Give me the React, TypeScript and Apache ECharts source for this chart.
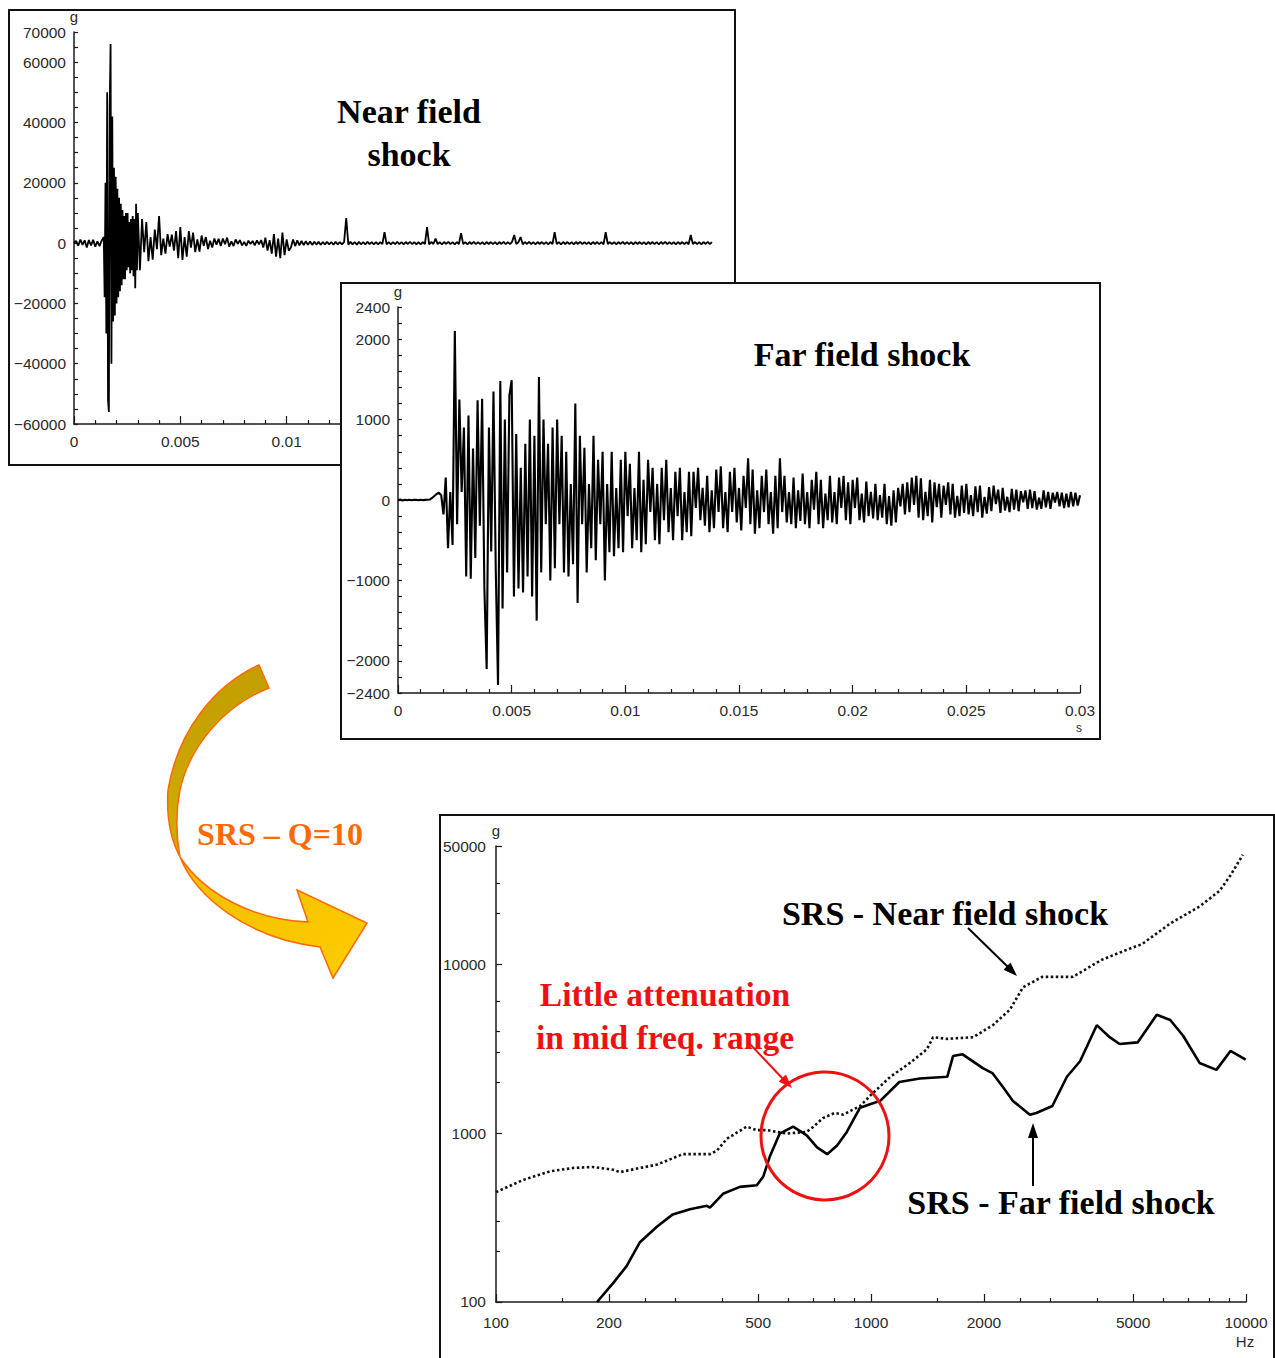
import React, { useEffect, useRef } from "react";
import * as echarts from "echarts";

// ---------- Near field shock time history (g vs s) ----------
const NEAR_PRE_T0 = 0;
const NEAR_PRE_DT = 0.0001;
const nearPre = [0, 700, -900, 1200, -600, 900, -1500, 1000, -800, 1100, -1200, 600, -1000, 800];

const NEAR_BURST_T0 = 0.0014;
const NEAR_BURST_DT = 0.00004;
const nearBurst = [
  2000, -18000, 20000, -30000, 50000, -52000, -56000, 45000, 66000, -40000,
  42000, -26000, 25000, -24000, 22000, -20000, 18000, -18000, 15000, -16000,
  13000, -14000, 11000, -12000, 9000, -12000, 10000, -9000, 10000, -8000,
  7000, -10000, 8000, -9000, 9000, -11000, 8000, -15000, 13000, -9000, 10000,
];

const NEAR_MID_T0 = 0.0031;
const NEAR_MID_DT = 0.0001;
const nearMid = [
  -9000, 8000, -3000, 7000, -6000, 2000, -5500, 4500, -2000, 9000,
  -4000, 1500, -3500, 3000, -1200, 2800, -2500, 4000, -5000, 5300,
  -5600, 2000, -4500, 4000, -1500, 3500, -3000, 1200, -2800, 2500,
  -900, 2000, -2000, 800, -1500, 1500, -500, 1400, -1000, 1500,
  -400, 1800, -1200, 600, -1000, 1200, -300, 1000, -800, 400,
  -900, 800, -300, 700, -800, 900, -400, 1000, -1500, 1800,
  -2500, 1000, -3500, 3000, -4500, 1500, -5000, 3500, -4000, 1200, -2500,
];

const NEAR_TAIL_T0 = 0.0102;
const NEAR_TAIL_DT = 0.0001;
const nearTail = [
  -1500, 1200, -1000, 900, -800, 700, -700, 600, -600, 500,
  -600, 450, -500, 400, -550, 350, -450, 400, -400, 350,
  -500, 400, -450, 350, -400, 300, 8300, -500, 400, -450,
  350, -500, 400, -400, 300, -450, 400, -350, 300, -400,
  350, -400, 300, -350, 3600, -400, 350, -400, 300, -350,
  400, -350, 300, -400, 350, -300, 400, -350, 300, -400,
  350, -400, 300, -350, 5300, -400, 350, -300, 1500, -350,
  300, -400, 350, -300, 400, -350, 300, -400, 350, -300,
  3300, -350, 300, -400, 350, -300, 400, -350, 300, -350,
  300, -400, 350, -300, 350, -350, 300, -400, 350, -300,
  400, -350, 300, -350, 400, 2700, -350, 300, 2000, -400,
  350, -300, 400, -350, 300, -400, 350, -300, 350, -350,
  300, -400, 350, -300, 3600, -350, 300, -400, 350, -300,
  350, -350, 300, -400, 350, -300, 400, -350, 300, -350,
  300, -400, 350, -300, 350, -350, 300, -400, 3600, -300,
  350, -350, 300, -400, 350, -300, 400, -350, 300, -350,
  300, -400, 350, -300, 350, -350, 300, -400, 350, -300,
  350, -350, 300, -400, 350, -300, 400, -350, 300, -350,
  300, -400, 350, -300, 350, -350, 300, -400, 2700, -300,
  350, -350, 300, -400, 350, -300, 400, -350, 300,
];

// ---------- Far field shock time history (g vs s), dt = 0.1 ms ----------
const FAR_DT = 0.0001;
const farA = [
  0, 5, -5, 3, -4, 4, -3, 2, 4, -3,
  3, -2, 2, 4, 6, 25, 50, 75, 90, 60,
  -180, 280, -600, 100, -560, 2100, -300, 1250, 100, 900,
  -950, 1050, -980, 640, -720, 1240, -320, 1260, -1100, -2100,
  900, -640, 1350, -860, -2300, 1480, -1350, 1000, -900, 1300,
  1490, -1200, 820, -1100, 400, -1150, 700, -950, 1000, -1200,
  800, -1500, 1530, -900, 1000, -300, 700, -1000, 900, -850,
  1000, -300, 800, -900, 600, -950, 200, -800, 1200, -1280,
  800, -300, 650, -900, 200, -600, 800, -750, 500, -300,
  600, -1000, 200, -650, 600, -700, 150, -600, 500, -650,
];
const farB = [
  600, -200, 450, -600, 150, -500, 600, -650, 250, -550,
  500, -150, 400, -500, 200, -550, 400, -250, 500, -400,
  150, -500, 350, -200, 400, -500, 100, -400, 350, -450,
  350, -100, 400, -250, 150, -320, 300, -400, 120, -350,
  380, -150, 420, -350, 100, -400, 350, -150, 400, -280,
  150, -380, 300, -100, 520, -300, 380, -420, 120, -350,
  300, -150, 380, -300, 100, -420, 300, -350, 520, -150,
  300, -280, 100, -300, 280, -350, 120, -260, 330, -300,
  100, -350, 250, -120, 350, -300, 250, -350, 80, -250,
  300, -280, 100, -300, 280, -100, 300, -250, 220, -300,
];
const farC = [
  250, -100, 280, -250, 80, -280, 230, -200, 100, -230,
  200, -250, 60, -220, 200, -300, 50, -320, 120, -280,
  150, -80, 200, -180, 220, -150, 280, -60, 300, -220,
  270, -250, 100, -200, 250, -280, 220, -90, 200, -220,
  180, -60, 220, -180, 200, -220, 50, -200, 180, -160,
  200, -180, 60, -200, 170, -150, 180, -220, 40, -170,
  160, -140, 180, -50, 130, -160, 150, -130, 40, -150,
  140, -120, 130, -140, 110, -30, 120, -110, 130, -100,
  110, -120, 30, -110, 120, -90, 100, -110, 90, -30,
  100, -80, 90, -100, 80, -90, 100, -80, 90, -70, 60,
];

// ---------- SRS (Q=10), g vs Hz ----------
const srsNearFreq = [100, 118, 139, 160, 181, 205, 214, 242, 269, 315, 372, 388, 413, 466, 496, 528, 596, 674, 703, 744, 800, 843, 935, 1006, 1126, 1270, 1410, 1464, 1597, 1874, 2112, 2346, 2543, 2860, 3450, 4130, 4970, 5280, 6280, 7520, 8500, 9090, 9810];
const srsNearG = [447, 527, 593, 621, 630, 607, 587, 621, 651, 750, 750, 786, 926, 1091, 1040, 1040, 993, 1016, 1091, 1226, 1315, 1285, 1445, 1704, 2153, 2600, 3133, 3693, 3610, 3693, 4350, 5370, 7290, 8400, 8400, 10620, 12500, 13120, 17380, 21950, 27120, 33500, 44400];
const srsFarFreq = [186, 205, 223, 242, 269, 296, 329, 365, 372, 403, 447, 496, 516, 538, 571, 620, 674, 718, 764, 812, 862, 935, 994, 1058, 1190, 1350, 1597, 1655, 1755, 1987, 2112, 2248, 2390, 2653, 2760, 3045, 3330, 3610, 4000, 4330, 4600, 5140, 5780, 6280, 6790, 7520, 8340, 9090, 9980];
const srsFarG = [100, 129, 163, 226, 280, 330, 354, 371, 362, 437, 480, 491, 552, 732, 993, 1091, 970, 823, 750, 843, 1016, 1412, 1479, 1550, 2006, 2103, 2153, 2855, 2923, 2421, 2254, 1871, 1550, 1285, 1315, 1445, 2153, 2660, 4350, 3693, 3365, 3440, 5010, 4670, 3780, 2600, 2366, 3061, 2722];

// ---------- tick / label sets ----------
const nearYLabels = [70000, 60000, 40000, 20000, 0, -20000, -40000, -60000];
const farYLabels = [2400, 2000, 1000, 0, -1000, -2000, -2400];
const srsXMajor = [100.001, 200, 500, 1000, 2000, 5000, 9999.99];
const srsXMinor = [150, 250, 300, 400, 600, 700, 800, 900, 1500, 2500, 3000, 4000, 6000, 7000, 8000, 9000];
const srsYMajor = [100.001, 1000, 10000, 49999.9];
const srsYMinor = [200, 300, 2000, 3000, 4000, 6000, 20000, 30000];

// ---------- decorative curved arrow outline ----------
const ARROW_BACK_D =
  "M 259 665 C 215 685 178 730 168 790 C 166 820 172 842 180 857 C 176 835 176 810 180 790 C 190 745 225 705 269 688 Z";
const ARROW_FRONT_D =
  "M 180 857 C 195 895 245 938 320 947 L 333 978 L 367 923 L 297 890 L 308 922 C 255 920 205 895 180 857 Z";
echarts.graphic.registerShape("arrowBack", echarts.graphic.extendPath(ARROW_BACK_D, {}));
echarts.graphic.registerShape("arrowFront", echarts.graphic.extendPath(ARROW_FRONT_D, {}));

const W = 1275;
const H = 1358;
const SANS = '"Liberation Sans", Arial, sans-serif';
const SERIF = '"Liberation Serif", "Times New Roman", serif';
const INK = "#1a1a1a";
const LABEL = { color: "#2a2a2a", fontSize: 15.5, fontFamily: SANS };

function seg(t0: number, dt: number, vals: number[]) {
  return vals.map((v, i) => [Number((t0 + i * dt).toFixed(6)), v]);
}
const minus = (v: number) => (v < 0 ? "\u2212" + String(-v) : String(v));
const fmtTime = (v: number) => String(Number(v.toFixed(4)));

function timeXAxis(grid: number, z: number) {
  return {
    gridIndex: grid,
    type: "value",
    min: 0,
    max: 0.03,
    interval: 0.005,
    z,
    axisLine: { show: true, onZero: false, lineStyle: { color: INK, width: 1.5 } },
    axisTick: { show: true, inside: true, length: 8, lineStyle: { color: INK, width: 1.2 } },
    minorTick: { show: true, splitNumber: 5, length: 4, lineStyle: { color: INK, width: 1.2 } },
    splitLine: { show: false },
    minorSplitLine: { show: false },
    axisLabel: { ...LABEL, margin: 9, formatter: fmtTime },
  };
}

function gYAxis(grid: number, z: number, min: number, max: number, interval: number, labels: number[]) {
  return {
    gridIndex: grid,
    type: "value",
    min,
    max,
    interval,
    z,
    name: "g",
    nameLocation: "end",
    nameGap: 7,
    nameTextStyle: { ...LABEL, fontSize: 15 },
    axisLine: { show: true, onZero: false, lineStyle: { color: INK, width: 1.5 } },
    axisTick: { show: true, inside: true, length: 4, lineStyle: { color: INK, width: 1.2 } },
    splitLine: { show: false },
    axisLabel: {
      ...LABEL,
      margin: 8,
      formatter: (v: number) => (labels.includes(v) ? minus(v) : ""),
    },
  };
}

function buildOption() {
  const nearData = [
    ...seg(NEAR_PRE_T0, NEAR_PRE_DT, nearPre),
    ...seg(NEAR_BURST_T0, NEAR_BURST_DT, nearBurst),
    ...seg(NEAR_MID_T0, NEAR_MID_DT, nearMid),
    ...seg(NEAR_TAIL_T0, NEAR_TAIL_DT, nearTail),
  ];
  const farData = seg(0, FAR_DT, [...farA, ...farB, ...farC]);
  const srsNear = srsNearFreq.map((f, i) => [f, srsNearG[i]]);
  const srsFar = srsFarFreq.map((f, i) => [f, srsFarG[i]]);
  const round = (v: number) => String(Math.round(v));

  const titleText = (text: string, x: number, y: number, color: string, size = 34) => ({
    type: "text",
    x,
    y,
    z: 20,
    style: {
      text,
      fill: color,
      fontSize: size,
      fontWeight: "bold",
      fontFamily: SERIF,
      align: "center",
      verticalAlign: "middle",
    },
  });
  const unitText = (text: string, x: number, y: number, size = 15) => ({
    type: "text",
    x,
    y,
    z: 20,
    style: { text, fill: "#2a2a2a", fontSize: size, fontFamily: SANS, align: "center", verticalAlign: "middle" },
  });

  return {
    animation: false,
    backgroundColor: "#ffffff",
    grid: [
      { left: 74, top: 32, width: 638, height: 392 },
      { left: 398, top: 307, width: 682, height: 386 },
      { left: 496, top: 846, width: 750, height: 456 },
    ],
    xAxis: [
      timeXAxis(0, 1),
      timeXAxis(1, 4),
      {
        gridIndex: 2,
        type: "log",
        logBase: 10,
        min: 100,
        max: 10000,
        position: "bottom",
        z: 4,
        axisLine: { show: true, onZero: false, lineStyle: { color: INK, width: 1.5 } },
        axisTick: { show: true, inside: true, length: 8, customValues: srsXMajor, lineStyle: { color: INK, width: 1.2 } },
        minorTick: { show: false },
        splitLine: { show: false },
        axisLabel: { ...LABEL, margin: 12, customValues: srsXMajor, formatter: round },
      },
      {
        gridIndex: 2,
        type: "log",
        logBase: 10,
        min: 100,
        max: 10000,
        position: "bottom",
        z: 4,
        axisLine: { show: false, onZero: false },
        axisTick: { show: true, inside: true, length: 4, customValues: srsXMinor, lineStyle: { color: INK, width: 1.2 } },
        splitLine: { show: false },
        axisLabel: { show: false },
      },
    ],
    yAxis: [
      gYAxis(0, 1, -60000, 70000, 5000, nearYLabels),
      gYAxis(1, 4, -2400, 2400, 200, farYLabels),
      {
        gridIndex: 2,
        type: "log",
        logBase: 10,
        min: 100,
        max: 50000,
        position: "left",
        z: 4,
        name: "g",
        nameLocation: "end",
        nameGap: 7,
        nameTextStyle: { ...LABEL, fontSize: 15 },
        axisLine: { show: true, onZero: false, lineStyle: { color: INK, width: 1.5 } },
        axisTick: { show: true, inside: true, length: 6, customValues: srsYMajor, lineStyle: { color: INK, width: 1.2 } },
        splitLine: { show: false },
        axisLabel: { ...LABEL, margin: 10, customValues: srsYMajor, formatter: round },
      },
      {
        gridIndex: 2,
        type: "log",
        logBase: 10,
        min: 100,
        max: 50000,
        position: "left",
        z: 4,
        axisLine: { show: false, onZero: false },
        axisTick: { show: true, inside: true, length: 4, customValues: srsYMinor, lineStyle: { color: INK, width: 1.2 } },
        splitLine: { show: false },
        axisLabel: { show: false },
      },
    ],
    series: [
      {
        name: "Near field shock",
        type: "line",
        xAxisIndex: 0,
        yAxisIndex: 0,
        data: nearData,
        showSymbol: false,
        symbol: "none",
        silent: true,
        z: 2,
        lineStyle: { color: "#000", width: 1.8, join: "bevel" },
      },
      {
        name: "Far field shock",
        type: "line",
        xAxisIndex: 1,
        yAxisIndex: 1,
        data: farData,
        showSymbol: false,
        symbol: "none",
        silent: true,
        z: 5,
        lineStyle: { color: "#000", width: 2.1, join: "bevel" },
      },
      {
        name: "SRS - Near field shock",
        type: "line",
        xAxisIndex: 2,
        yAxisIndex: 2,
        data: srsNear,
        showSymbol: false,
        symbol: "none",
        silent: true,
        z: 5,
        lineStyle: { color: "#111", width: 2.6, type: [2.5, 2.5] },
      },
      {
        name: "SRS - Far field shock",
        type: "line",
        xAxisIndex: 2,
        yAxisIndex: 2,
        data: srsFar,
        showSymbol: false,
        symbol: "none",
        silent: true,
        z: 5,
        lineStyle: { color: "#000", width: 2.6 },
      },
    ],
    graphic: [
      // frames
      { type: "rect", z: 0, shape: { x: 9, y: 10, width: 726, height: 455 }, style: { fill: "none", stroke: "#111", lineWidth: 2 } },
      { type: "rect", z: 3, shape: { x: 341, y: 283, width: 759, height: 456 }, style: { fill: "#fff", stroke: "#111", lineWidth: 2 } },
      { type: "rect", z: 3, shape: { x: 440, y: 815, width: 834, height: 570 }, style: { fill: "none", stroke: "#111", lineWidth: 2 } },
      // curved arrow
      {
        type: "arrowBack",
        x: 0,
        y: 0,
        z: 6,
        style: {
          fill: new echarts.graphic.LinearGradient(0, 0, 0, 1, [
            { offset: 0, color: "#C29E00" },
            { offset: 1, color: "#D2AC00" },
          ]),
          stroke: "#FF6A00",
          lineWidth: 1.5,
        },
      },
      {
        type: "arrowFront",
        x: 0,
        y: 0,
        z: 6,
        style: {
          fill: new echarts.graphic.LinearGradient(0, 0, 1, 1, [
            { offset: 0, color: "#F2BE00" },
            { offset: 1, color: "#FFCC00" },
          ]),
          stroke: "#FF6A00",
          lineWidth: 1.5,
        },
      },
      // black arrow to near SRS
      { type: "line", z: 10, shape: { x1: 968, y1: 928, x2: 1008, y2: 967 }, style: { stroke: "#000", lineWidth: 2 } },
      { type: "polygon", z: 10, shape: { points: [[1017, 976], [1003.5, 969.8], [1010.5, 962.6]] }, style: { fill: "#000" } },
      // black arrow to far SRS
      { type: "line", z: 10, shape: { x1: 1033, y1: 1186, x2: 1033, y2: 1136 }, style: { stroke: "#000", lineWidth: 2 } },
      { type: "polygon", z: 10, shape: { points: [[1033, 1123], [1028, 1138], [1038, 1138]] }, style: { fill: "#000" } },
      // red arrow + circle
      { type: "line", z: 10, shape: { x1: 748, y1: 1042, x2: 783, y2: 1079 }, style: { stroke: "#EE1111", lineWidth: 2 } },
      { type: "polygon", z: 10, shape: { points: [[792, 1088], [778.7, 1081.4], [785.9, 1074.4]] }, style: { fill: "#EE1111" } },
      { type: "circle", z: 10, shape: { cx: 825, cy: 1136, r: 64 }, style: { fill: "none", stroke: "#EE1111", lineWidth: 3 } },
      // titles
      titleText("Near field", 409, 111, "#000"),
      titleText("shock", 409, 154, "#000"),
      titleText("Far field shock", 862, 354, "#000"),
      titleText("SRS - Near field shock", 945, 913, "#000"),
      titleText("SRS - Far field shock", 1061, 1202, "#000"),
      titleText("Little attenuation", 665, 994, "#EE1111", 33.5),
      titleText("in mid freq. range", 665, 1037, "#EE1111", 33.5),
      titleText("SRS \u2013 Q=10", 280, 834, "#FF6A00", 32),
      // units
      unitText("s", 1079, 728, 12),
      unitText("Hz", 1245, 1341),
    ],
  };
}

export default function App() {
  const ref = useRef<HTMLDivElement>(null);
  useEffect(() => {
    if (!ref.current) return;
    const chart = echarts.init(ref.current, null, { renderer: "svg" });
    chart.setOption(buildOption() as any);
    return () => chart.dispose();
  }, []);
  return (
    <div
      ref={ref}
      style={{ position: "absolute", left: 0, top: 0, width: W, height: H, background: "#fff" }}
    />
  );
}
